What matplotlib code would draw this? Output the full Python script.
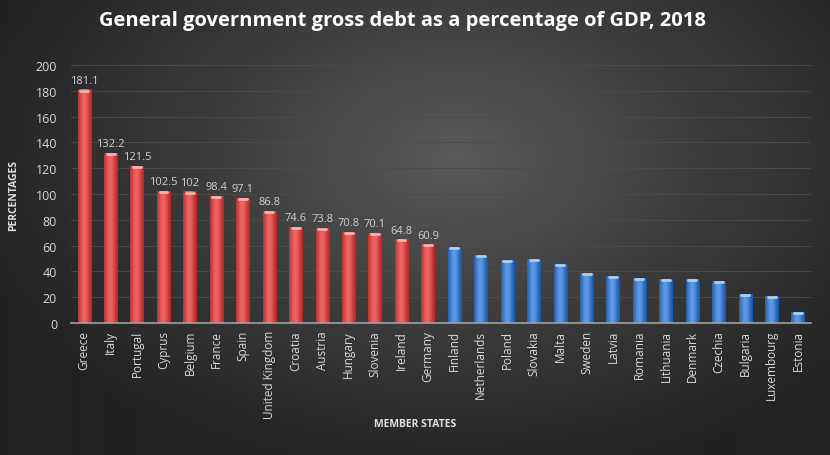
import numpy as np
import matplotlib.pyplot as plt
from matplotlib.colors import LinearSegmentedColormap

# General government gross debt, % of GDP, 2018
countries = ["Greece", "Italy", "Portugal", "Cyprus", "Belgium", "France", "Spain",
             "United Kingdom", "Croatia", "Austria", "Hungary", "Slovenia", "Ireland",
             "Germany", "Finland", "Netherlands", "Poland", "Slovakia", "Malta", "Sweden",
             "Latvia", "Romania", "Lithuania", "Denmark", "Czechia", "Bulgaria",
             "Luxembourg", "Estonia"]
debt = [181.1, 132.2, 121.5, 102.5, 102, 98.4, 97.1, 86.8, 74.6, 73.8, 70.8, 70.1,
        64.8, 60.9, 58.9, 52.4, 48.9, 49.4, 45.8, 38.8, 36.4, 35.0, 34.2, 34.2, 32.6,
        22.3, 21.0, 8.4]
n_red = 14  # countries above the 60% reference value

fig = plt.figure(figsize=(8.3, 4.56), dpi=100)
plt.rcParams['font.family'] = ['Open Sans', 'DejaVu Sans']

# radial background gradient
bg = fig.add_axes([0, 0, 1, 1], zorder=-10)
yy, xx = np.mgrid[0:1:456j, 0:1:830j]
r = np.sqrt(((xx - 0.55) / 0.75) ** 2 + ((yy - 0.35) / 0.9) ** 2)
bg_cmap = LinearSegmentedColormap.from_list("bg", ["#5a5a5a", "#3c3c3c", "#222222"])
bg.imshow(r, cmap=bg_cmap, aspect="auto", extent=[0, 1, 0, 1], vmin=0, vmax=0.8,
          origin="upper")
bg.axis("off")

ax = fig.add_axes([0.0855, 0.2895, 0.892, 0.5655])
ax.patch.set_alpha(0)

x = np.arange(len(countries))
colors = ["#dc4746"] * n_red + ["#2e6fc7"] * (len(countries) - n_red)
bars = ax.bar(x, debt, width=0.5, color=colors, zorder=3)

# cylinder-like shading on each bar
shade = np.linspace(0, 1, 50)
shade = np.exp(-((shade - 0.45) / 0.4) ** 2)[None, :]
red_cmap = LinearSegmentedColormap.from_list("r", ["#b02a29", "#ef6463"])
blue_cmap = LinearSegmentedColormap.from_list("b", ["#1f56a3", "#5a9ae6"])
for i, b in enumerate(bars):
    cm = red_cmap if i < n_red else blue_cmap
    im = ax.imshow(shade, cmap=cm, aspect="auto", zorder=4,
                   extent=[b.get_x(), b.get_x() + b.get_width(), 0, b.get_height()])
    im.set_clip_path(b)
    top = "#f7b0ae" if i < n_red else "#a9cdf5"
    ax.plot([b.get_x() + 0.1, b.get_x() + b.get_width() - 0.1],
            [b.get_height() - 0.8, b.get_height() - 0.8],
            color=top, lw=2, zorder=5, solid_capstyle="round")

for i in range(n_red):
    ax.text(x[i], debt[i] + 3, f"{debt[i]:g}", ha="center", va="bottom",
            color="#d0d0d0", fontsize=8)

ax.set_xlim(-0.5, len(countries) - 0.5)
ax.set_ylim(0, 200)
ax.set_yticks(range(0, 201, 20))
ax.yaxis.grid(True, color="#4c4c4c", lw=0.6, zorder=0)
ax.set_xticks(x)
ax.set_xticklabels(countries, rotation=90, fontsize=8.5, color="#d8d8d8")
ax.tick_params(axis="y", labelsize=9, labelcolor="#d8d8d8", length=0, pad=10)
ax.tick_params(axis="x", length=0, pad=5)
for s in ["top", "right", "left"]:
    ax.spines[s].set_visible(False)
ax.spines["bottom"].set_color("#a0a0a0")
ax.spines["bottom"].set_linewidth(1.2)
ax.spines["bottom"].set_zorder(6)

ax.set_ylabel("PERCENTAGES", fontsize=7.5, fontweight="bold", color="#e0e0e0", labelpad=12)
fig.text(0.5, 0.068, "MEMBER STATES", ha="center", va="center", fontsize=7.5,
         fontweight="bold", color="#e0e0e0")
fig.text(0.485, 0.955, "General government gross debt as a percentage of GDP, 2018",
         ha="center", va="center", fontsize=14.5, fontweight="bold", color="white")

fig.savefig("out.png", dpi=100)
